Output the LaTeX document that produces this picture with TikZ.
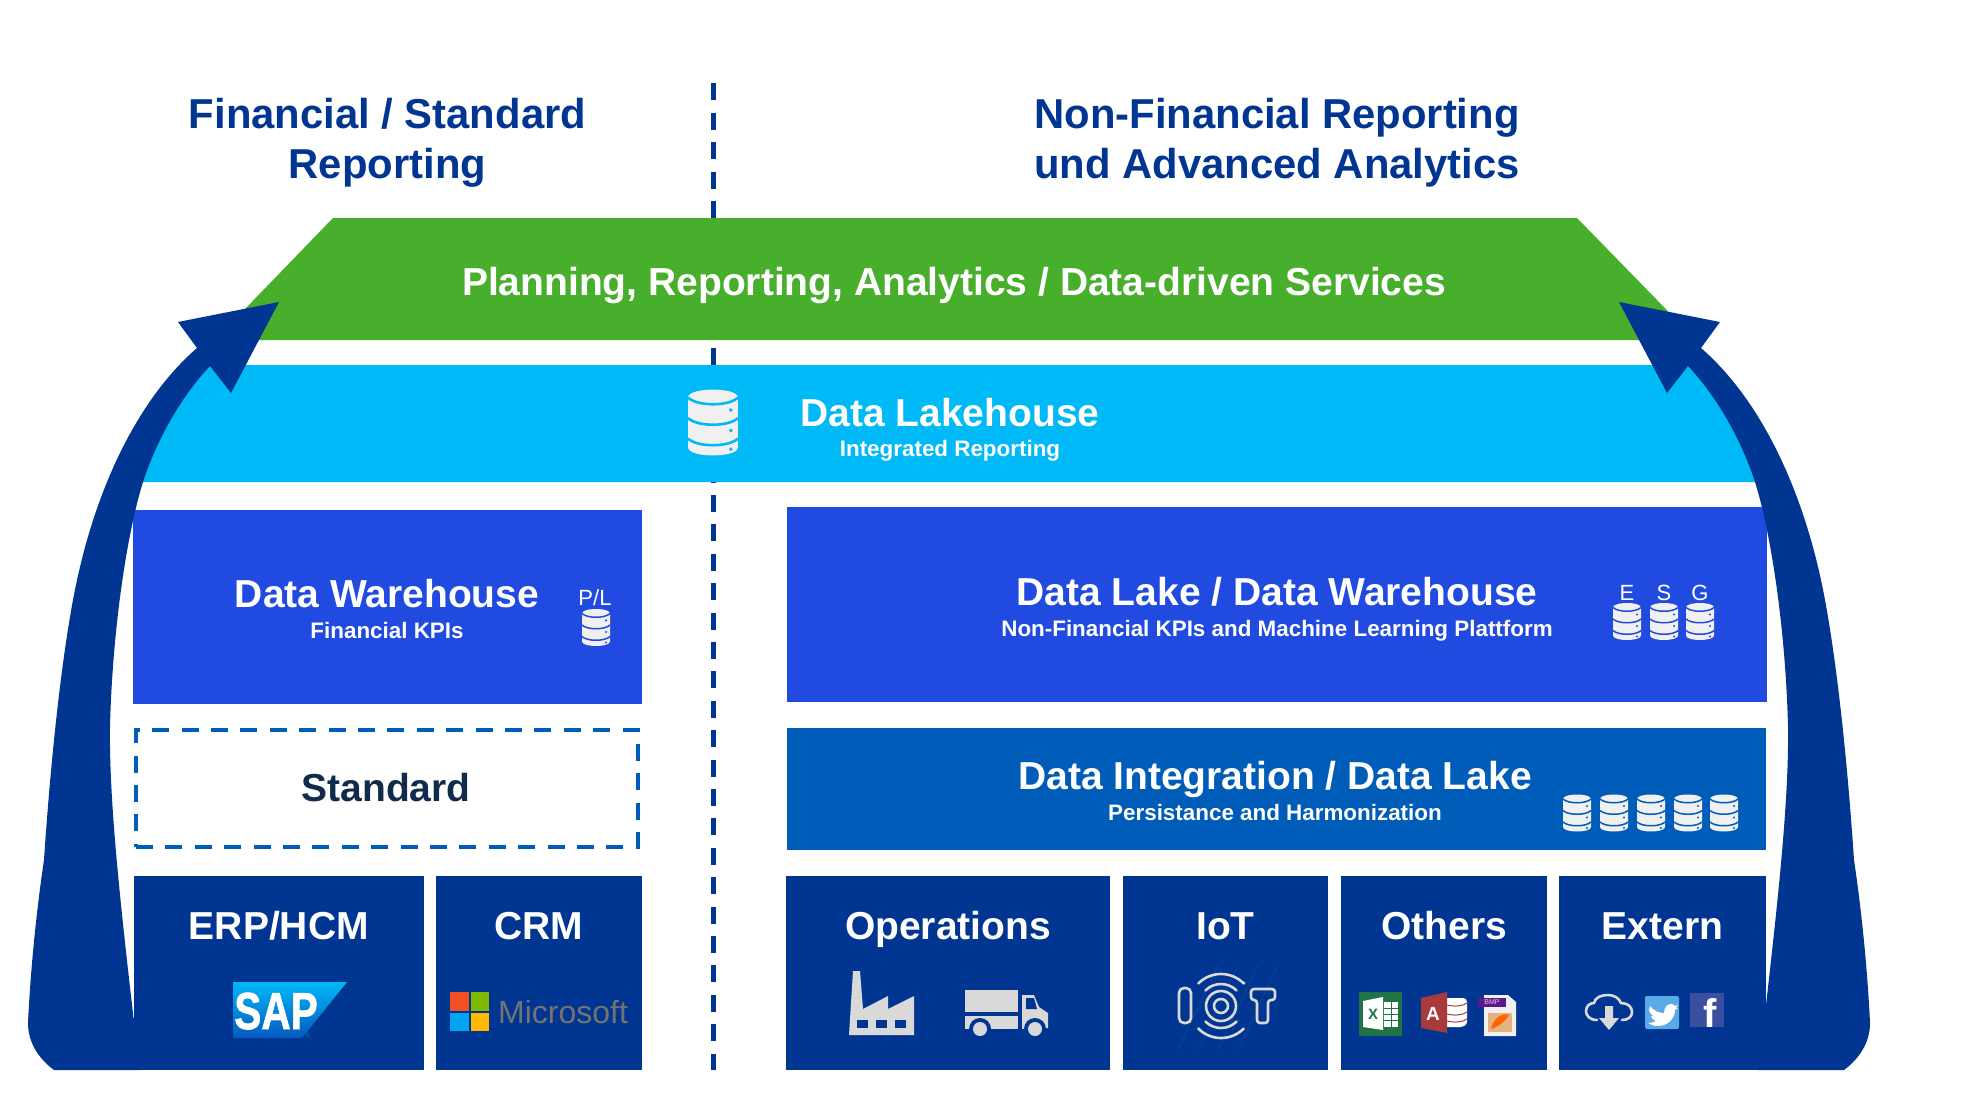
\documentclass[tikz,border=0pt]{standalone}
\usepackage{fontspec}
\setmainfont{Liberation Sans}
\newfontfamily\sapfont[BoldFeatures={FakeBold=1.5}]{Liberation Sans}
\usetikzlibrary{positioning}

\definecolor{navy}{HTML}{003591}
\definecolor{bandgreen}{HTML}{47AF2B}
\definecolor{bandcyan}{HTML}{00B9F7}
\definecolor{bandblue}{HTML}{204AE0}
\definecolor{bandmid}{HTML}{005CB9}
\definecolor{iconlight}{HTML}{D9D9D9}
\definecolor{dblight}{HTML}{F0F0F0}
\definecolor{stdtext}{HTML}{112B4A}
\definecolor{msred}{HTML}{F25022}
\definecolor{msgreen}{HTML}{7FBA00}
\definecolor{msblue}{HTML}{00A4EF}
\definecolor{msyellow}{HTML}{FFB900}
\definecolor{xlgreen}{HTML}{217346}
\definecolor{accred}{HTML}{A93A3A}
\definecolor{bmppurple}{HTML}{5B1A8C}
\definecolor{twblue}{HTML}{5AAAE8}
\definecolor{fbblue}{HTML}{3B4F9E}

\tikzset{
  pics/dbicon/.style 2 args={code={
    \fill[dblight] (-14,-14) .. controls (-14,-20) and (14,-20) .. (14,-14)
      -- (14,14) .. controls (14,20) and (-14,20) .. (-14,14) -- cycle;
    \foreach \y in {-14,-2.5,9}
      \draw[#1,line width=#2] (-14,\y) .. controls (-9,\y+5) and (9,\y+5) .. (14,\y);
    \foreach \y in {-7,4.5,15}
      \fill[#1] (10,\y) circle (1.1);
  }},
  pics/bigarrow/.style={code={
    \fill[navy] (140,1070) -- (54,1070) .. controls (38,1058) and (28,1042) .. (28,1023)
      .. controls (31,960) and (38,900) .. (44,860)
      .. controls (50,770) and (60,670) .. (73,600)
      .. controls (93,492) and (137,400) .. (197,348)
      -- (178,322) -- (279,302) -- (231,393) -- (210,366)
      .. controls (178,400) and (155,445) .. (143,482)
      .. controls (125,540) and (112,640) .. (110,727)
      .. controls (109,800) and (120,900) .. (133.5,1018) -- (140,1018) -- cycle;
  }}
}

\begin{document}
\begin{tikzpicture}[
    x=1pt,y=-1pt,
    block/.style={inner sep=0pt,outer sep=0pt,text=white},
    title/.style={text=navy,font=\fontsize{41.8}{50}\selectfont\bfseries,align=center,inner sep=0pt},
    head/.style={text=white,font=\fontsize{39}{46}\selectfont\bfseries,anchor=base,inner sep=0pt},
    sub/.style={text=white,font=\fontsize{22.4}{26}\selectfont\bfseries,anchor=base,inner sep=0pt},
    letter/.style={text=white,font=\fontsize{22}{26}\selectfont,anchor=base,inner sep=0pt}
    ]

    \useasboundingbox (0,0) rectangle (1966,1116);
    \fill[white] (0,0) rectangle (1966,1116);

    \coordinate (dashtop) at (713.5,83.4);
    \coordinate (dashbot) at (713.5,1070);
    \draw[navy,line width=4.5pt,dash pattern=on 17pt off 12.4pt] (dashtop) -- (dashbot);

    \node (leftt) [title] at (387.5,143) {Financial / Standard\\Reporting};
    \node (rightt) [title] at (1277,143) {Non-Financial Reporting\\und Advanced Analytics};

    \fill[bandgreen] (333,218) -- (1577,218) -- (1696,340) -- (215,340) -- cycle;
    \fill[bandcyan] (195,365) -- (1703,365) -- (1738,407) -- (1778,482) -- (120,482) -- (160,407) -- cycle;
    \node (plan) [head] at (954,295) {Planning, Reporting, Analytics / Data-driven Services};
    \pic at (713,422.5) [scale=1.78] {dbicon={bandcyan}{2.6pt}};
    \node (lake) [head] at (950,426) {Data Lakehouse};
    \node (lakes) [sub] at (950,456) {Integrated Reporting};

    \node (dwh) [block,fill=bandblue,minimum width=509pt,minimum height=194pt] at (387.5,607) {};
    \node (dwht) [head] at (387,607) {Data Warehouse};
    \node (dwhs) [sub] at (387,638) {Financial KPIs};
    \node (pl) [letter] at (595,605) {P/L};
    \pic at (596,627.5) {dbicon={bandblue}{1.5pt}};

    \node (std) [block,draw=bandmid,line width=4.5pt,dash pattern=on 17pt off 12.4pt,
      minimum width=502pt,minimum height=117pt] at (387,788.5) {};
    \node (stdt) [head,text=stdtext] at (386,801) {Standard};

    \node (dlk) [block,fill=bandblue,minimum width=980pt,minimum height=195pt] at (1277,604.5) {};
    \node (dlkt) [head] at (1277,605) {Data Lake / Data Warehouse};
    \node (dlks) [sub] at (1277,636) {Non-Financial KPIs and Machine Learning Plattform};
    \foreach \x/\t in {1627/E,1664/S,1700/G} {
      \node (let\t) [letter] at (\x,600) {\t};
      \pic at (\x,621.5) {dbicon={bandblue}{1.5pt}};
    }

    \node (dint) [block,fill=bandmid,minimum width=979pt,minimum height=122pt] at (1276.5,789) {};
    \node (dintt) [head] at (1275,789) {Data Integration / Data Lake};
    \node (dints) [sub] at (1275,820) {Persistance and Harmonization};
    \foreach \x in {1577,1614,1651,1688,1724}
      \pic at (\x,813) {dbicon={bandmid}{1.5pt}};

    \foreach \nm/\xa/\xb/\t in {erp/133.5/424/ERP\slash HCM,crm/436/642/CRM,ops/786/1110/Operations,
        iot/1123/1328/IoT,oth/1341/1547/Others,ext/1559/1766/Extern} {
      \fill[navy] (\xa,875.5) rectangle (\xb,1070);
      \node (\nm) [head] at ({(\xa+\xb)/2},939) {\t};
    }

    \pic at (0,0) {bigarrow};
    \pic at (1898,0) [xscale=-1] {bigarrow};

    % SAP
    \shade[top color=bandcyan,bottom color=bandmid!85!bandblue] (233,982) -- (347,982) -- (302,1038) -- (233,1038) -- cycle;
    \node (sap) [inner sep=0pt,text=white,anchor=base] at (276,1029) {\scalebox{.78}[1]{\fontsize{52}{52}\sapfont\bfseries SAP}};
    \node (sapc) [inner sep=0pt,text=bandcyan!60!navy,font=\fontsize{6}{6}\selectfont] at (308,1035) {©};

    % Microsoft
    \fill[msred] (450,992) rectangle (468.5,1010.5);
    \fill[msgreen] (470.5,992) rectangle (489,1010.5);
    \fill[msblue] (450,1012.5) rectangle (468.5,1031);
    \fill[msyellow] (470.5,1012.5) rectangle (489,1031);
    \node (msft) [inner sep=0pt,text=black!55,font=\fontsize{32}{32}\selectfont,anchor=base] at (563,1023) {Microsoft};

    % factory and truck
    \fill[iconlight] (849,1035) -- (853,971) -- (860,971) -- (863,1009) -- (888,996) -- (888,1009) -- (914,996) -- (914,1035) -- cycle;
    \foreach \x in {857,876,895}
      \fill[navy] (\x,1020) rectangle (\x+11,1028);
    \fill[iconlight] (965,990) rectangle (1018,1012);
    \fill[iconlight] (965,1016) rectangle (1018,1029);
    \fill[iconlight] (1022,995) -- (1034,995) -- (1039,1007) -- (1048,1013) -- (1048,1028) -- (1022,1029) -- cycle;
    \fill[navy] (1026,998) -- (1034,998) -- (1037,1009) -- (1026,1009) -- cycle;
    \foreach \x in {980,1035} {
      \fill[navy] (\x,1029) circle (11);
      \fill[iconlight] (\x,1029) circle (7);
    }

    % IoT
    \foreach \x in {1178,1198,...,1238}
      \draw[navy!94!white,line width=1pt] (\x,1050) -- (\x+40,965);
    \draw[iconlight,line width=2.6pt,rounded corners=5pt] (1179,988) rectangle (1191,1023);
    \draw[iconlight,line width=2.6pt,rounded corners=3pt] (1257,1000) -- (1251,1000) -- (1251,989) -- (1275,989) -- (1275,1000) -- (1268,1000) -- (1268,1023) -- (1257,1023) -- cycle;
    \foreach \rad in {7,15}
      \draw[iconlight,line width=2.6pt] (1221,1006) circle (\rad);
    \foreach \rad in {22,32} {
      \draw[iconlight,line width=2.6pt,line cap=round] (1221,1006) ++(-45:\rad) arc[start angle=-45,end angle=-135,radius=\rad];
      \draw[iconlight,line width=2.6pt,line cap=round] (1221,1006) ++(45:\rad) arc[start angle=45,end angle=135,radius=\rad];
    }
    \fill[iconlight] (1244,983) circle (1.6);
    \fill[iconlight] (1199,1029) circle (1.6);

    % Excel, Access, BMP
    \fill[xlgreen] (1359,992) rectangle (1402,1036);
    \fill[white] (1384,1002) rectangle (1398,1027);
    \foreach \y in {1008,1014,1020}
      \draw[xlgreen,line width=.8pt] (1384,\y) -- (1398,\y);
    \draw[xlgreen,line width=.8pt] (1391,1002) -- (1391,1027);
    \fill[white] (1363,1001) -- (1383,997) -- (1383,1030) -- (1363,1027) -- cycle;
    \node (xl) [inner sep=0pt,text=xlgreen,font=\fontsize{15}{15}\selectfont\bfseries] at (1373,1014) {X};
    \fill[white] (1447,998) -- (1462,998) .. controls (1466,998) and (1467,1000) .. (1467,1002) -- (1467,1022) .. controls (1467,1025) and (1463,1027) .. (1460,1027) -- (1447,1027) -- cycle;
    \foreach \y in {1005,1014,1021}
      \draw[accred,line width=1pt] (1447,\y) .. controls (1455,\y+2) and (1463,\y+1) .. (1467,\y-2);
    \fill[accred] (1421,998) -- (1447,992) -- (1447,1033) -- (1421,1028) -- cycle;
    \node (acc) [inner sep=0pt,text=white,font=\fontsize{19}{19}\selectfont\bfseries] at (1433,1014) {A};
    \fill[black!6!white] (1484,995) -- (1508,995) -- (1516,1002) -- (1516,1036) -- (1484,1036) -- cycle;
    \fill[orange!30!brown!60!white] (1488,1013) rectangle (1512,1032);
    \fill[orange!80!red] (1491,1029) .. controls (1493,1018) and (1503,1012) .. (1509,1015) .. controls (1505,1022) and (1499,1026) .. (1491,1029) -- cycle;
    \fill[bmppurple] (1478,998) rectangle (1506,1007);
    \node (bmp) [inner sep=0pt,text=white!80!violet,font=\fontsize{7}{7}\selectfont] at (1492,1002.5) {BMP};

    % cloud, Twitter, Facebook
    \draw[iconlight,line width=2.6pt,line cap=round] (1597,1020) .. controls (1589,1020) and (1586,1015) .. (1586,1011)
      .. controls (1586,1006) and (1590,1003) .. (1594,1003) .. controls (1595,997) and (1602,995) .. (1608,995)
      .. controls (1614,995) and (1619,998) .. (1621,1003) .. controls (1628,1003) and (1632,1007) .. (1632,1012)
      .. controls (1632,1017) and (1628,1020) .. (1622,1020);
    \fill[iconlight] (1605,1006) -- (1613,1006) -- (1613,1018) -- (1619,1018) -- (1609,1030) -- (1599,1018) -- (1605,1018) -- cycle;
    \fill[twblue,rounded corners=2pt] (1645,996) rectangle (1679,1029);
    \fill[white] (1650,1006) .. controls (1654,1011) and (1659,1013) .. (1664,1013)
      .. controls (1664,1007) and (1668,1004) .. (1671,1004) .. controls (1673,1004) and (1674,1005) .. (1675,1006)
      -- (1678,1005) -- (1676,1008) -- (1678,1008) -- (1675,1010)
      .. controls (1675,1018) and (1668,1026) .. (1658,1026) .. controls (1654,1026) and (1651,1025) .. (1648,1023)
      .. controls (1652,1023) and (1654,1022) .. (1656,1021) .. controls (1653,1020) and (1651,1018) .. (1651,1016)
      -- (1653,1016) .. controls (1651,1014) and (1649,1012) .. (1649,1010) -- cycle;
    \fill[fbblue] (1690,993) rectangle (1724,1027);
    \node (fb) [inner sep=0pt,text=white,font=\fontsize{40}{40}\selectfont\bfseries,anchor=base] at (1710.5,1027) {f};

  \end{tikzpicture}
\end{document}
